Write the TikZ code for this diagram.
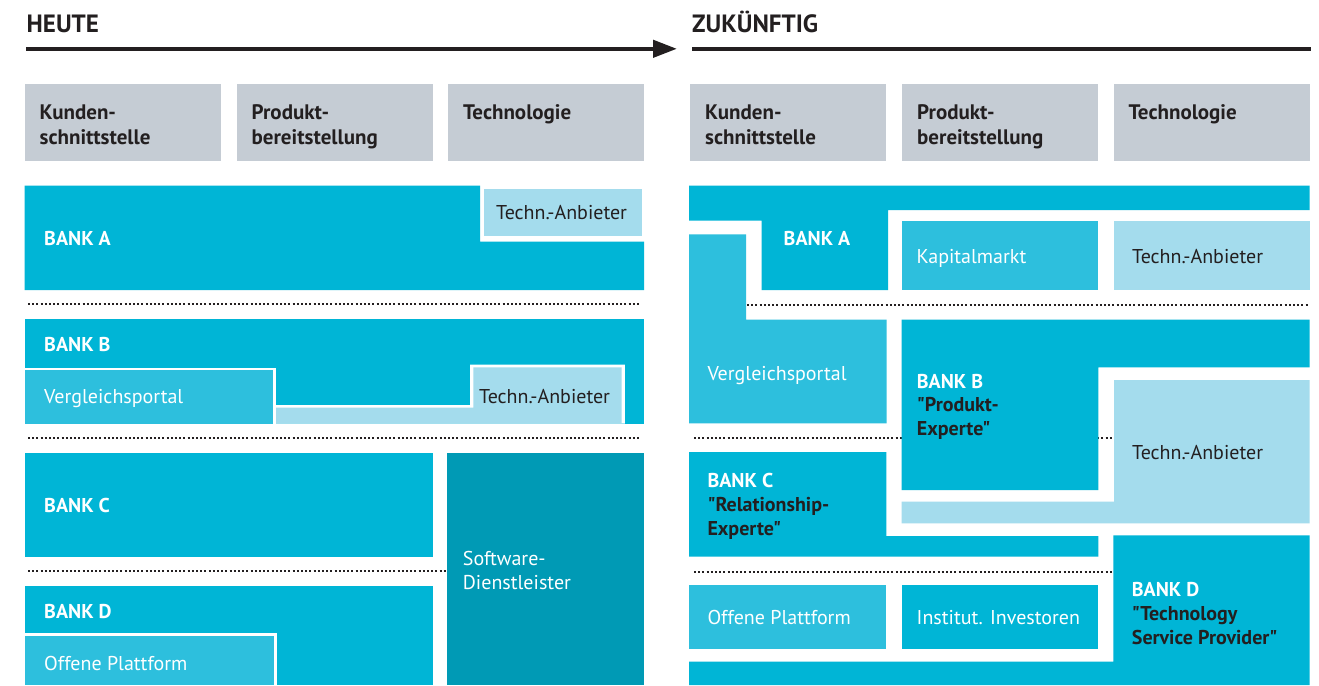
\documentclass[tikz,border=0pt]{standalone}
\usepackage{fontspec}
\setmainfont{PT Sans}[Ligatures=TeXOff]
\usetikzlibrary{arrows.meta}
\definecolor{bankc}{HTML}{00B5D6}
\definecolor{midc}{HTML}{2DBFDD}
\definecolor{lightc}{HTML}{A4DCED}
\definecolor{softc}{HTML}{009AB5}
\definecolor{headg}{HTML}{C5CCD4}
\definecolor{txtd}{HTML}{231F20}
\begin{document}
\begin{tikzpicture}[x=1pt,y=-1pt,
  lbl/.style={anchor=base west,inner sep=0pt,font=\fontsize{20}{24}\selectfont},
  wlbl/.style={lbl,text=white},
  dlbl/.style={lbl,text=txtd},
  bwlbl/.style={lbl,text=white,font=\fontsize{20}{24}\selectfont\bfseries},
  bdlbl/.style={lbl,text=txtd,font=\fontsize{20}{24}\selectfont\bfseries},
  hlbl/.style={lbl,text=txtd,font=\fontsize{21}{25}\selectfont\bfseries},
  ttl/.style={lbl,text=txtd,font=\fontsize{25}{30}\selectfont\bfseries},
  bankfill/.style={fill=bankc},
  midfill/.style={fill=midc},
  lightfill/.style={fill=lightc},
  softfill/.style={fill=softc},
  headfill/.style={fill=headg},
  gapfill/.style={fill=white},
  dotline/.style={draw=txtd,line width=2pt,dash pattern=on 2pt off 2.2pt},
  timeline/.style={draw=txtd,line width=4.3pt}
]
\useasboundingbox[fill=white] (0,0) rectangle (1319,685);

% ---------- titles and time line ----------
\node[ttl] (heute) at (26.5,32.5) {HEUTE};
\node[ttl] (zukunft) at (692,32.5) {ZUKÜNFTIG};
\coordinate (arrS) at (26,48.8);
\coordinate (arrE) at (677,48.8);
\draw[timeline,-{Triangle[length=24pt,width=17pt]}] (arrS) -- (arrE);
\coordinate (zS) at (692,48.8);
\coordinate (zE) at (1311,48.8);
\draw[timeline] (zS) -- (zE);

% ---------- column headers ----------
\foreach \xa/\xb in {24.5/220.5, 236.5/432.5, 448/644, 690/886, 902/1097.5, 1113.5/1309.5}{
  \fill[headfill] (\xa,84) rectangle (\xb,161);
}
\node[hlbl] (hk1a) at (39.5,119) {Kunden-};
\node[hlbl] (hk1b) at (39.5,144) {schnittstelle};
\node[hlbl] (hp1a) at (251.5,119) {Produkt-};
\node[hlbl] (hp1b) at (251.5,144) {bereitstellung};
\node[hlbl] (ht1) at (463,119) {Technologie};
\node[hlbl] (hk2a) at (705,119) {Kunden-};
\node[hlbl] (hk2b) at (705,144) {schnittstelle};
\node[hlbl] (hp2a) at (917,119) {Produkt-};
\node[hlbl] (hp2b) at (917,144) {bereitstellung};
\node[hlbl] (ht2) at (1128.5,119) {Technologie};

% ================= HEUTE =================
% dotted separators
\draw[dotline] (28,304.3) -- (641,304.3);
\draw[dotline] (28,437.5) -- (641,437.5);
\draw[dotline] (28,571) -- (446,571);

% Bank A
\fill[bankfill] (24.5,185.5) -- (480,185.5) -- (480,241.5) -- (644,241.5) -- (644,290) -- (24.5,290) -- cycle;
\fill[lightfill] (484,188.5) rectangle (641.5,236);
\node[bwlbl] (lA) at (44,245) {BANK A};
\node[dlbl] (lAt) at (496,219.5) {Techn.-Anbieter};

% Bank B
\fill[bankfill] (24.5,319.3) rectangle (644,423.5);
\fill[gapfill] (24.5,367.5) rectangle (276,423.5);
\fill[midfill] (24.5,370) rectangle (273.3,423.5);
\fill[gapfill] (273.3,405) -- (470,405) -- (470,364.5) -- (624.8,364.5) -- (624.8,423.5) -- (273.3,423.5) -- cycle;
\fill[lightfill] (276,407.7) -- (473.3,407.7) -- (473.3,367.3) -- (621.5,367.3) -- (621.5,423.5) -- (276,423.5) -- cycle;
\node[bwlbl] (lB) at (44,351) {BANK B};
\node[wlbl] (lBv) at (44,403.3) {Vergleichsportal};
\node[dlbl] (lBt) at (479,403) {Techn.-Anbieter};

% Bank C
\fill[bankfill] (24.5,452.5) rectangle (432.5,557);
\node[bwlbl] (lC) at (44,512) {BANK C};

% Software-Dienstleister
\fill[softfill] (447.3,452.5) rectangle (644,685);
\node[wlbl] (lSa) at (462.7,565) {Software-};
\node[wlbl] (lSb) at (462.7,589) {Dienstleister};

% Bank D
\fill[bankfill] (24.5,585.5) rectangle (432.5,685);
\fill[gapfill] (24.5,633) rectangle (276.5,685);
\fill[midfill] (24.5,636) rectangle (273.5,685);
\node[bwlbl] (lD) at (44,618) {BANK D};
\node[wlbl] (lDo) at (44,670) {Offene Plattform};

% ================= ZUKUENFTIG =================
\draw[dotline] (747,305) -- (1307.5,305);
\draw[dotline] (694,437.7) -- (1112,437.7);
\draw[dotline] (694,571.7) -- (1112,571.7);

% Bank A
\fill[bankfill] (689,185.5) -- (1309.5,185.5) -- (1309.5,210) -- (888,210) -- (888,290) -- (761.5,290) -- (761.5,220.5) -- (689,220.5) -- cycle;
\fill[midfill] (901.5,221) rectangle (1098,290);
\fill[lightfill] (1113.5,221) rectangle (1309.5,290);
\node[bwlbl] (rA) at (783.5,245) {BANK A};
\node[wlbl] (rAk) at (916.5,263) {Kapitalmarkt};
\node[dlbl] (rAt) at (1132,263) {Techn.-Anbieter};

% Vergleichsportal
\fill[midfill] (689,234.3) -- (746,234.3) -- (746,319.5) -- (886.5,319.5) -- (886.5,423.3) -- (689,423.3) -- cycle;
\node[wlbl] (rV) at (707.3,380) {Vergleichsportal};

% Bank B
\fill[bankfill] (901.5,319.5) -- (1309.5,319.5) -- (1309.5,367.3) -- (1098.3,367.3) -- (1098.3,490) -- (901.5,490) -- cycle;
\node[bwlbl] (rB) at (916.7,388.3) {BANK B};
\node[bdlbl] (rBa) at (916.7,411.7) {"Produkt-};
\node[bdlbl] (rBb) at (916.7,435) {Experte"};

% Techn.-Anbieter (large)
\fill[lightfill] (1114,380) -- (1309.5,380) -- (1309.5,523.4) -- (901.5,523.4) -- (901.5,501.7) -- (1114,501.7) -- cycle;
\node[dlbl] (rT) at (1132,459) {Techn.-Anbieter};

% Bank C
\fill[bankfill] (689,452) -- (886.3,452) -- (886.3,536) -- (1098.3,536) -- (1098.3,556.7) -- (689,556.7) -- cycle;
\node[bwlbl] (rC) at (707.3,487.7) {BANK C};
\node[bdlbl] (rCa) at (707.3,511.7) {"Relationship-};
\node[bdlbl] (rCb) at (707.3,535) {Experte"};

% Bank D
\fill[bankfill] (1113.3,535.3) -- (1309.5,535.3) -- (1309.5,685) -- (689,685) -- (689,661.7) -- (1113.3,661.7) -- cycle;
\fill[midfill] (689,585.3) rectangle (886.3,649.3);
\fill[bankfill] (901.5,585.3) rectangle (1098.3,649.3);
\node[bwlbl] (rD) at (1131.7,596.7) {BANK D};
\node[bdlbl] (rDa) at (1131.7,620) {"Technology};
\node[bdlbl] (rDb) at (1131.7,644) {Service Provider"};
\node[wlbl] (rDo) at (707.3,624) {Offene Plattform};
\node[wlbl] (rDi) at (916.5,624) {Institut. Investoren};
\end{tikzpicture}
\end{document}
